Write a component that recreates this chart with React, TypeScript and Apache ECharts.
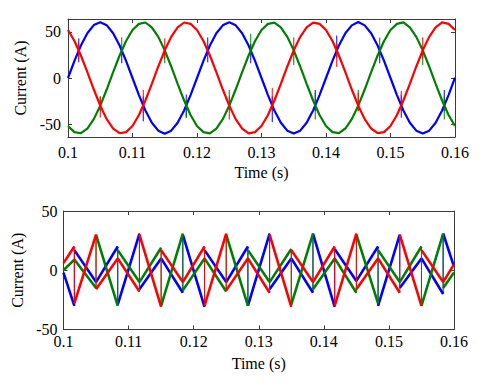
import React, { useEffect, useRef } from 'react';
import * as echarts from 'echarts';

// ---------- Top plot: three-phase source currents ----------
const topT = [
  0.100, 0.101, 0.102, 0.103, 0.104, 0.105, 0.106, 0.107, 0.108, 0.109,
  0.110, 0.111, 0.112, 0.113, 0.114, 0.115, 0.116, 0.117, 0.118, 0.119,
  0.120, 0.121, 0.122, 0.123, 0.124, 0.125, 0.126, 0.127, 0.128, 0.129,
  0.130, 0.131, 0.132, 0.133, 0.134, 0.135, 0.136, 0.137, 0.138, 0.139,
  0.140, 0.141, 0.142, 0.143, 0.144, 0.145, 0.146, 0.147, 0.148, 0.149,
  0.150, 0.151, 0.152, 0.153, 0.154, 0.155, 0.156, 0.157, 0.158, 0.159,
  0.160,
];
const topBlue = [
  0, 18.5, 35.3, 48.5, 57.4, 60.6, 57.3, 48.5, 35.3, 18.5,
  0, -18.5, -35.3, -48.5, -57.1, -60.4, -57.1, -48.5, -35.3, -18.5,
  0, 18.5, 35.3, 48.5, 57.1, 60.5, 57.1, 48.5, 35.3, 18.5,
  0, -18.5, -35.3, -48.5, -57.1, -60.3, -57.1, -48.5, -35.3, -18.5,
  0, 18.5, 35.3, 48.5, 57.1, 60.7, 57.1, 48.5, 35.3, 18.5,
  0, -18.5, -35.3, -48.5, -57.1, -60.2, -57.1, -48.5, -35.3, -18.5,
  0.5,
];
const topGreen = [
  -52.0, -58.7, -59.9, -54.8, -44.6, -30, -12.5, 6.3, 24.4, 40.1,
  52.0, 58.7, 60.2, 54.8, 44.6, 30, 12.5, -6.3, -24.4, -40.1,
  -52.0, -58.7, -60.1, -54.8, -44.6, -30, -12.5, 6.3, 24.4, 40.1,
  52.0, 58.7, 60.0, 54.8, 44.6, 30, 12.5, -6.3, -24.4, -40.1,
  -52.0, -58.7, -59.8, -54.8, -44.6, -30, -12.5, 6.3, 24.4, 40.1,
  52.0, 58.7, 60.3, 54.8, 44.6, 30, 12.5, -6.3, -24.4, -40.1,
  -52.0,
];
const topRed = [
  52.0, 40.1, 24.4, 6.3, -12.5, -30, -44.6, -54.8, -59.9, -58.7,
  -52.0, -40.1, -24.4, -6.3, 12.5, 30, 44.6, 54.8, 60.2, 58.7,
  52.0, 40.1, 24.4, 6.3, -12.5, -30, -44.6, -54.8, -60.1, -58.7,
  -52.0, -40.1, -24.4, -6.3, 12.5, 30, 44.6, 54.8, 60.0, 58.7,
  52.0, 40.1, 24.4, 6.3, -12.5, -30, -44.6, -54.8, -59.8, -58.7,
  -52.0, -40.1, -24.4, -6.3, 12.5, 30, 44.6, 54.8, 60.3, 58.7,
  52.0,
];
// switching spikes at phase crossings
const topSpikeT = [
  0.101667, 0.105, 0.108333, 0.111667, 0.115, 0.118333,
  0.121667, 0.125, 0.128333, 0.131667, 0.135, 0.138333,
  0.141667, 0.145, 0.148333, 0.151667, 0.155, 0.158333,
];
type Spike = [number, number] | null;
const topBlueSpike: Spike[] = [
  [17, 43], null, [16, 33], [-47, -20], null, [-43, -18],
  [17, 44], null, [16, 37], [-48, -20], null, [-36, -13],
  [22, 46], null, [16, 30], [-43, -18], null, [-36, -13],
];
const topGreenSpike: Spike[] = [
  null, [-36, -20], [27, 44], null, [16, 30], [-43, -24],
  null, [-34, -13], [25, 48], null, [14, 33], [-45, -16],
  null, [-36, -13], [22, 44], null, [14, 33], [-45, -20],
];
const topRedSpike: Spike[] = [
  [20, 38], [-43, -20], null, [-38, -13], [21, 43], null,
  null, [-45, -20], null, [-34, -11], [25, 44], null,
  [12, 37], [-36, -16], null, [-36, -14], [21, 44], null,
];

// ---------- Bottom plot: compensating currents ----------
const botT = [
  0.1, 0.101667, 0.105, 0.108333, 0.111667, 0.115, 0.118333,
  0.121667, 0.125, 0.128333, 0.131667, 0.135, 0.138333,
  0.141667, 0.145, 0.148333, 0.151667, 0.155, 0.158333, 0.16,
];
type V = number | [number, number];
const botBlue: V[] = [
  -2, [-30, 17], -10, [20, -29], [31, -16], 10, [-19, 30],
  [-31, 17], -10, [20, -30], [31, -16], 10, [-19, 31],
  [-31, 18], -9, [20, -30], [30, -15], 10, [-20, 31], 3,
];
const botGreen: V[] = [
  0, 9, [-15, 30], [-30, 17], -10, [19, -30], [31, -17],
  10, [-18, 30], [-30, 17], -10, [18, -29], [31, -16],
  10, [-19, 30], [-28, 17], -10, [20, -30], [31, -15], -2,
];
const botRed: V[] = [
  6, [20, -28], [30, -16], 10, [-18, 30], [-31, 17], -10,
  [20, -30], [31, -17], 10, [-19, 30], [-31, 17], -10,
  [20, -30], [31, -16], 10, [-19, 30], [-30, 17], -10, 5,
];

const BLUE = '#0000ff';
const GREEN = '#008000';
const RED = '#ff0000';
const FONT = 'Liberation Serif';

type P = [number, number | string];

function topMain(base: number[]): P[] {
  return topT.map((t, i) => [t, base[i]] as P);
}
function topSpikes(spikes: Spike[]): P[] {
  const pts: P[] = [];
  spikes.forEach((s, i) => {
    if (!s) return;
    const tc = topSpikeT[i];
    pts.push([tc, s[0]], [tc, s[1]], [tc, '-']);
  });
  return pts;
}
function botRamps(vals: V[]): P[] {
  const pts: P[] = [];
  vals.forEach((v, i) => {
    const t = botT[i];
    if (Array.isArray(v)) pts.push([t, v[0]], [t, '-'], [t, v[1]]);
    else pts.push([t, v]);
  });
  return pts;
}
function botJumps(vals: V[]): P[] {
  const pts: P[] = [];
  vals.forEach((v, i) => {
    const t = botT[i];
    if (Array.isArray(v)) pts.push([t, v[0]], [t, v[1]], [t, '-']);
  });
  return pts;
}

export default function App() {
  const ref = useRef<HTMLDivElement>(null);
  useEffect(() => {
    if (!ref.current) return;
    const chart = echarts.init(ref.current, null, { renderer: 'svg' });
    const axisLine = { show: true, onZero: false, lineStyle: { color: '#3a3a3a', width: 1 } };
    const tick = { show: true, inside: true, length: 4, lineStyle: { color: '#3a3a3a' } };
    const textStyle = { fontFamily: FONT, fontSize: 16, color: '#000' };
    const fmtX = (v: number) => String(parseFloat(v.toFixed(2)));

    const xBottom = (grid: number, margin: number, nameGap: number) => ({
      type: 'value', gridIndex: grid, min: 0.1, max: 0.16, interval: 0.01, position: 'bottom',
      axisLine, axisTick: tick, splitLine: { show: false },
      axisLabel: { ...textStyle, margin, formatter: fmtX },
      name: 'Time (s)', nameLocation: 'middle', nameGap, nameTextStyle: textStyle,
    });
    const xTopAxis = (grid: number) => ({
      type: 'value', gridIndex: grid, min: 0.1, max: 0.16, interval: 0.01, position: 'top',
      axisLine, axisTick: tick, axisLabel: { show: false }, splitLine: { show: false },
    });

    const line = (data: P[], color: string, xi: number, yi: number, w: number) => ({
      type: 'line', data, xAxisIndex: xi, yAxisIndex: yi,
      showSymbol: false, symbol: 'none', clip: true, connectNulls: false,
      lineStyle: { color, width: w }, itemStyle: { color },
    });

    chart.setOption({
      animation: false,
      backgroundColor: '#ffffff',
      grid: [
        { left: 68, top: 19, width: 387, height: 118 },
        { left: 63.5, top: 211, width: 390.5, height: 118.5 },
      ],
      xAxis: [xBottom(0, 7, 27), xTopAxis(0), xBottom(1, 4, 25.5), xTopAxis(1)],
      yAxis: [
        {
          type: 'value', gridIndex: 0, min: -64, max: 64, position: 'left',
          axisLine, axisTick: { ...tick, customValues: [-50, 0, 50] },
          axisLabel: { ...textStyle, margin: 7, customValues: [-50, 0, 50] },
          splitLine: { show: false },
          name: 'Current (A)', nameLocation: 'middle', nameGap: 31, nameRotate: 90, nameTextStyle: textStyle,
        },
        {
          type: 'value', gridIndex: 0, min: -64, max: 64, position: 'right',
          axisLine, axisTick: { ...tick, customValues: [-50, 0, 50] },
          axisLabel: { show: false }, splitLine: { show: false },
        },
        {
          type: 'value', gridIndex: 1, min: -50, max: 50, interval: 50, position: 'left',
          axisLine, axisTick: tick,
          axisLabel: { ...textStyle, margin: 6 },
          splitLine: { show: false },
          name: 'Current (A)', nameLocation: 'middle', nameGap: 37, nameRotate: 90, nameTextStyle: textStyle,
        },
        {
          type: 'value', gridIndex: 1, min: -50, max: 50, interval: 50, position: 'right',
          axisLine, axisTick: tick, axisLabel: { show: false }, splitLine: { show: false },
        },
      ],
      series: [
        line(topMain(topBlue), BLUE, 0, 0, 2.2),
        line(topSpikes(topBlueSpike), BLUE, 0, 0, 1),
        line(topMain(topGreen), GREEN, 0, 0, 2.2),
        line(topSpikes(topGreenSpike), GREEN, 0, 0, 1),
        line(topMain(topRed), RED, 0, 0, 2.2),
        line(topSpikes(topRedSpike), RED, 0, 0, 1),
        line(botRamps(botBlue), BLUE, 2, 2, 2.6),
        line(botJumps(botBlue), BLUE, 2, 2, 1),
        line(botRamps(botGreen), GREEN, 2, 2, 2.6),
        line(botJumps(botGreen), GREEN, 2, 2, 1),
        line(botRamps(botRed), RED, 2, 2, 2.6),
        line(botJumps(botRed), RED, 2, 2, 1),
      ],
    });
    return () => chart.dispose();
  }, []);
  return (
    <div
      ref={ref}
      style={{ position: 'fixed', left: 0, top: 0, width: 487, height: 389, background: '#fff' }}
    />
  );
}
